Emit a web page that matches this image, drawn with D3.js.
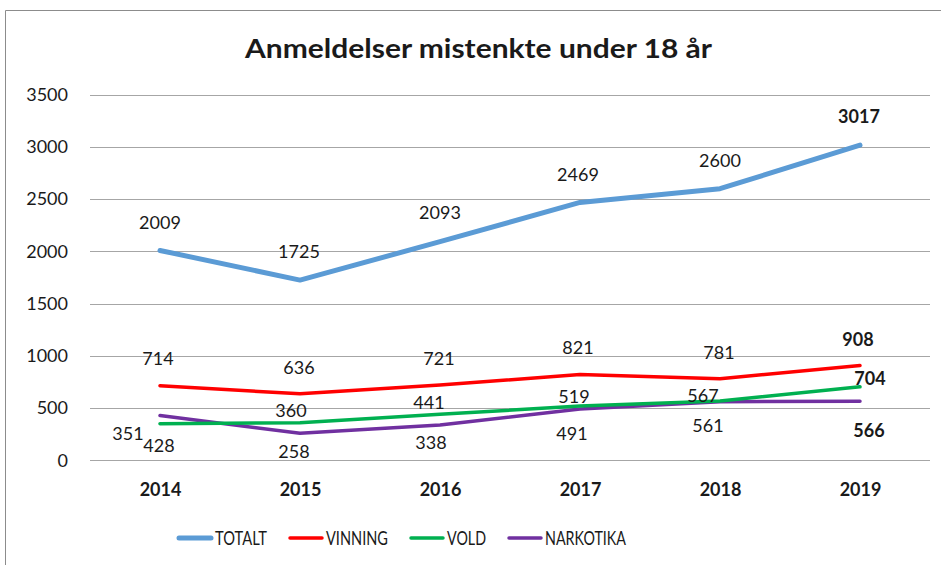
<!DOCTYPE html>
<html>
<head>
<meta charset="utf-8">
<script src="https://cdn.jsdelivr.net/npm/d3@7"></script>
<style>
  body { margin: 0; background: #fff; }
  svg text { font-family: Lato, "Open Sans", sans-serif; fill: #1a1a1a; }
</style>
</head>
<body>
<script>
const years = ["2014", "2015", "2016", "2017", "2018", "2019"];
const totalt = [2009, 1725, 2093, 2469, 2600, 3017];
const vinning = [714, 636, 721, 821, 781, 908];
const vold = [351, 360, 441, 519, 567, 704];
const narkotika = [428, 258, 338, 491, 561, 566];
const yTicks = [0, 500, 1000, 1500, 2000, 2500, 3000, 3500];
const seriesNames = ["TOTALT", "VINNING", "VOLD", "NARKOTIKA"];

const w = 941, h = 565;

const svg = d3.select('body').append('svg')
    .attr('width', w)
    .attr('height', h);

// frame (only left + top visible in the reference)
svg.append('path')
    .attr('d', 'M5.5,565 V10.5 H941')
    .attr('fill', 'none')
    .attr('stroke', '#8c8c8c')
    .attr('stroke-width', 1);

svg.append('text')
    .attr('x', 245)
    .attr('y', 58)
    .attr('font-size', 26)
    .attr('font-weight', 'bold')
    .attr('textLength', 467)
    .attr('lengthAdjust', 'spacingAndGlyphs')
    .text('Anmeldelser mistenkte under 18 år');

const x = d3.scalePoint()
    .domain(years)
    .range([90, 930])
    .padding(0.5);

const y = d3.scaleLinear()
    .domain([0, 3500])
    .range([460.3, 94.7]);

// gridlines
svg.append('g')
    .selectAll('line')
    .data(yTicks)
    .join('line')
    .attr('x1', 90)
    .attr('x2', 930)
    .attr('y1', d => Math.round(y(d)) + 0.5)
    .attr('y2', d => Math.round(y(d)) + 0.5)
    .attr('stroke', '#a6a6a6')
    .attr('stroke-width', 1);

const yAxis = svg.append('g')
    .attr('transform', 'translate(68,0)')
    .call(d3.axisLeft(y).tickValues(yTicks).tickFormat(d3.format('d')).tickSize(0).tickPadding(0));
yAxis.select('.domain').remove();
yAxis.selectAll('text')
    .attr('font-size', 18)
    .attr('font-family', 'Lato, sans-serif')
    .attr('fill', '#1a1a1a');

const xAxis = svg.append('g')
    .attr('transform', 'translate(0,490)')
    .call(d3.axisBottom(x).tickSize(0).tickPadding(0));
xAxis.select('.domain').remove();
xAxis.selectAll('text')
    .attr('dy', '0.35em')
    .attr('font-size', 18)
    .attr('font-weight', 'bold')
    .attr('font-family', 'Lato, sans-serif')
    .attr('fill', '#1a1a1a');

const series = [
    { name: seriesNames[0], values: totalt, color: '#5b9bd5', width: 5 },
    { name: seriesNames[1], values: vinning, color: '#ff0000', width: 3.5 },
    { name: seriesNames[2], values: vold, color: '#00b050', width: 3.5 },
    { name: seriesNames[3], values: narkotika, color: '#7030a0', width: 3.5 }
];

// label offsets relative to each point (layout only)
const labelOffsets = {
    TOTALT: [[0, -28], [-1, -28], [0, -29], [-2, -28], [0, -28], [-1, -28]],
    VINNING: [[-2, -27], [-1, -26], [-1, -26], [-2, -27], [-1, -26], [-2, -26]],
    VOLD: [[-32, 10], [-9, -12], [-11, -12], [-6, -9], [-17, -5], [10, -8]],
    NARKOTIKA: [[-1, 30], [-6, 18], [-9, 18], [-8, 25], [-12, 24], [9, 30]]
};

// legend text widths as seen in the reference (narrow Calibri)
const legendTextWidths = { TOTALT: 52, VINNING: 62, VOLD: 39, NARKOTIKA: 81 };

const line = d3.line()
    .x((d, i) => x(years[i]))
    .y(d => y(d));

series.slice().reverse().forEach(s => {
    svg.append('path')
        .datum(s.values)
        .attr('d', line)
        .attr('fill', 'none')
        .attr('stroke', s.color)
        .attr('stroke-width', s.width)
        .attr('stroke-linecap', 'round')
        .attr('stroke-linejoin', 'round');
});

series.forEach(s => {
    svg.append('g')
        .selectAll('text')
        .data(s.values)
        .join('text')
        .attr('x', (d, i) => x(years[i]) + labelOffsets[s.name][i][0])
        .attr('y', (d, i) => y(d) + labelOffsets[s.name][i][1])
        .attr('dy', '0.35em')
        .attr('text-anchor', 'middle')
        .attr('font-size', 18)
        .attr('font-weight', (d, i) => i === years.length - 1 ? 'bold' : 'normal')
        .text(d => d);
});

// legend
const legend = svg.append('g').attr('transform', 'translate(177,538)');
let lx = 0;
series.forEach(s => {
    const g = legend.append('g').attr('transform', `translate(${lx},0)`);
    g.append('line')
        .attr('x1', 2).attr('x2', 34)
        .attr('stroke', s.color)
        .attr('stroke-width', s.width)
        .attr('stroke-linecap', 'round');
    g.append('text')
        .attr('x', 38)
        .attr('dy', '0.35em')
        .attr('font-size', 20)
        .attr('textLength', legendTextWidths[s.name])
        .attr('lengthAdjust', 'spacingAndGlyphs')
        .text(s.name);
    lx += 38 + legendTextWidths[s.name] + 21;
});
</script>
</body>
</html>
